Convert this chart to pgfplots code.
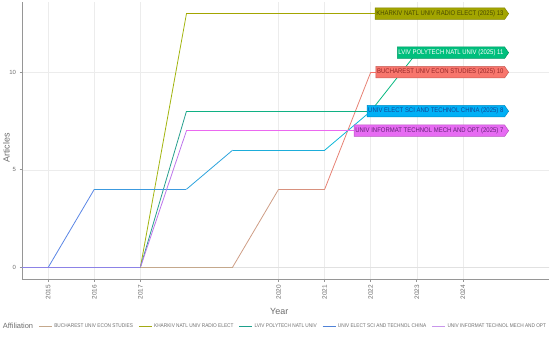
\documentclass[border=0pt]{standalone}
\usepackage{pgfplots}
\pgfplotsset{compat=1.18}
\usepackage{fontspec}
\setmainfont{Liberation Sans}
\newfontfamily\narrowfont[FakeStretch=0.88]{Liberation Sans}
\usetikzlibrary{shapes.symbols}
\definecolor{ticktext}{RGB}{110,110,110}
\definecolor{axisc}{RGB}{150,150,150}
\definecolor{gridc}{RGB}{236,236,236}
\definecolor{zeroc}{RGB}{225,225,225}
\definecolor{buL}{RGB}{196,168,140}
\definecolor{khL}{RGB}{163,170,20}
\definecolor{lvL}{RGB}{30,160,140}
\definecolor{chL}{RGB}{80,130,215}
\definecolor{inL}{RGB}{200,150,235}
\definecolor{buF}{RGB}{248,118,109}
\definecolor{khF}{RGB}{163,165,0}
\definecolor{lvF}{RGB}{0,191,125}
\definecolor{chF}{RGB}{0,176,246}
\definecolor{inF}{RGB}{231,107,243}
\definecolor{buT}{RGB}{150,40,40}
\definecolor{khT}{RGB}{75,75,0}
\definecolor{chT}{RGB}{20,70,150}
\definecolor{inT}{RGB}{100,35,120}
\begin{document}
\begin{tikzpicture}
\path[use as bounding box] (0,0) rectangle (550bp,337bp);
\begin{axis}[
  at={(22bp,58bp)}, anchor=south west,
  scale only axis, width=527bp, height=277bp,
  xmin=2014.43, xmax=2025.87, ymin=-0.6, ymax=13.6,
  clip mode=individual,
  xtick={2015,2016,2017,2020,2021,2022,2023,2024},
  ytick={0,5,10},
  /pgf/number format/1000 sep={},
  /pgf/number format/assume math mode=true,
  xticklabel style={rotate=90, anchor=east, font=\fontsize{6.5}{7}\selectfont, text=ticktext},
  yticklabel style={font=\fontsize{6}{7}\selectfont, text=ticktext},
  axis x line*=bottom, axis y line*=left,
  axis line style={axisc, line width=0.9pt},
  tick align=outside, major tick length=2.5bp,
  tick style={axisc, line width=0.6pt},
  grid=major, major grid style={gridc, line width=0.5pt},
  legend style={at={(axis description cs:-0.046,-0.172)}, anchor=west, draw=none, fill=none,
    legend columns=6, font=\narrowfont\fontsize{5.4}{6}\selectfont, text=ticktext,
    /tikz/every even column/.append style={column sep=3.5bp}},
  legend cell align=left,
  legend image code/.code={\draw[#1, line width=0.7pt] (0bp,0bp) -- (13bp,0bp);},
]
\addplot[forget plot, zeroc, line width=1.3pt] coordinates {(2014,0) (2026,0)};

\addplot[mesh, forget plot, line width=0.8pt, colormap={bucm}{rgb255=(196,168,140) rgb255=(246,112,106)}, point meta=y, point meta rel=per plot]
 coordinates {(2014,0) (2015,0) (2016,0) (2017,0) (2018,0) (2019,0) (2020,4) (2021,4) (2022,10) (2023,10) (2024,10) (2025,10)};
\addplot[mesh, forget plot, line width=0.8pt, colormap={khcm}{rgb255=(160,195,30) rgb255=(163,165,0)}, point meta=y, point meta rel=per plot]
 coordinates {(2014,0) (2015,0) (2016,0) (2017,0) (2018,13) (2019,13) (2020,13) (2021,13) (2022,13) (2023,13) (2024,13) (2025,13)};
\addplot[mesh, forget plot, line width=0.8pt, colormap={lvcm}{rgb255=(60,140,150) rgb255=(0,191,125)}, point meta=y, point meta rel=per plot]
 coordinates {(2014,0) (2015,0) (2016,0) (2017,0) (2018,8) (2019,8) (2020,8) (2021,8) (2022,8) (2023,11) (2024,11) (2025,11)};
\addplot[mesh, forget plot, line width=0.8pt, colormap={chcm}{rgb255=(120,115,235) rgb255=(0,192,212)}, point meta=y, point meta rel=per plot]
 coordinates {(2014,0) (2015,0) (2016,4) (2017,4) (2018,4) (2019,6) (2020,6) (2021,6) (2022,8) (2023,8) (2024,8) (2025,8)};
\addplot[mesh, forget plot, line width=0.8pt, colormap={incm}{rgb255=(140,130,230) rgb255=(235,105,240)}, point meta=y, point meta rel=per plot]
 coordinates {(2014,0) (2015,0) (2016,0) (2017,0) (2018,7) (2019,7) (2020,7) (2021,7) (2022,7) (2023,7) (2024,7) (2025,7)};

\addlegendimage{empty legend}
\addlegendentry{\normalfont\fontsize{7.5}{8}\selectfont Affiliation\hspace{2bp}}
\addlegendimage{buL}\addlegendentry{BUCHAREST UNIV ECON STUDIES}
\addlegendimage{khL}\addlegendentry{KHARKIV NATL UNIV RADIO ELECT}
\addlegendimage{lvL}\addlegendentry{LVIV POLYTECH NATL UNIV}
\addlegendimage{chL}\addlegendentry{UNIV ELECT SCI AND TECHNOL CHINA}
\addlegendimage{inL}\addlegendentry{UNIV INFORMAT TECHNOL MECH AND OPT}

\node[font=\fontsize{9}{10}\selectfont, text=ticktext] at (axis description cs:0.488,-0.116) {Year};
\node[font=\fontsize{9}{10}\selectfont, text=ticktext, rotate=90] at (axis description cs:-0.0295,0.473) {Articles};

\tikzset{lab/.style={signal, signal to=east, signal pointer angle=110, anchor=east,
  inner sep=1.2bp, minimum height=11.5bp, line width=0.5pt,
  font=\narrowfont\fontsize{6.8}{7.5}\selectfont}}
\node[lab, fill=khF, draw=khF!80!black, text=khT] at (axis cs:2025,13) {KHARKIV NATL UNIV RADIO ELECT (2025) 13};
\node[lab, fill=lvF, draw=lvF!80!black, text=white] at (axis cs:2025,11) {LVIV POLYTECH NATL UNIV (2025) 11};
\node[lab, fill=buF, draw=buF!80!black, text=buT] at (axis cs:2025,10) {BUCHAREST UNIV ECON STUDIES (2025) 10};
\node[lab, fill=chF, draw=chF!80!black, text=chT] at (axis cs:2025,8) {UNIV ELECT SCI AND TECHNOL CHINA (2025) 8};
\node[lab, fill=inF, draw=inF!80!black, text=inT] at (axis cs:2025,7) {UNIV INFORMAT TECHNOL MECH AND OPT (2025) 7};
\end{axis}
\end{tikzpicture}
\end{document}
